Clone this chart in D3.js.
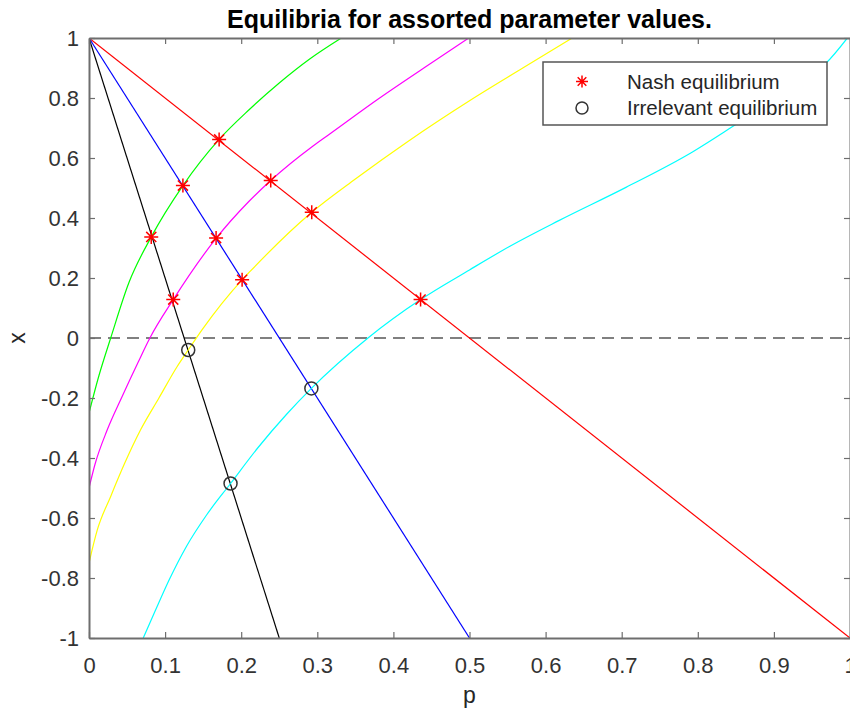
<!DOCTYPE html>
<html>
<head>
<meta charset="utf-8">
<script src="https://cdn.jsdelivr.net/npm/d3@7"></script>
<style>
  body { margin: 0; background: #fff; }
  text { font-family: "Liberation Sans", Arial, sans-serif; }
</style>
</head>
<body>
<script>
// straight best-response lines [p, x]
var redLine = [[0, 1], [1, -1]];
var blueLine = [[0, 1], [0.5, -1]];
var blackLine = [[0, 1], [0.25, -1]];

// curves [p, x]
var greenCurve = [[0, -0.25], [0.0131, -0.125], [0.0285, 0], [0.0525, 0.185], [0.0818, 0.337],
    [0.1234, 0.508], [0.171, 0.662], [0.21, 0.76], [0.25, 0.85], [0.29, 0.93], [0.3316, 1]];
var magentaCurve = [[0, -0.5], [0.008, -0.42], [0.024, -0.306], [0.0437, -0.194], [0.0647, -0.08],
    [0.08, 0], [0.1107, 0.128], [0.167, 0.332], [0.21, 0.455], [0.2388, 0.525], [0.2944, 0.64],
    [0.3163, 0.68], [0.3819, 0.8], [0.44, 0.9], [0.499, 1]];
var yellowCurve = [[0, -0.75], [0.011, -0.639], [0.0285, -0.528], [0.047, -0.417], [0.0678, -0.306],
    [0.0919, -0.2], [0.1159, -0.095], [0.1304, -0.04], [0.1487, 0.028], [0.2012, 0.194], [0.2113, 0.221],
    [0.2927, 0.419], [0.35, 0.53], [0.42, 0.657], [0.5, 0.791], [0.57, 0.9], [0.6347, 1]];
var cyanCurve = [[0.0713, -1], [0.0866, -0.912], [0.1054, -0.806], [0.1282, -0.694], [0.1545, -0.59],
    [0.186, -0.485], [0.2222, -0.365], [0.2594, -0.255], [0.2922, -0.168], [0.3666, 0], [0.4357, 0.128],
    [0.5, 0.227], [0.5525, 0.305], [0.618, 0.392], [0.7056, 0.502], [0.793, 0.62], [0.8447, 0.703],
    [0.9, 0.795], [0.94, 0.862], [0.968, 0.915], [0.9965, 1]];

// equilibria
var nashPoints = [[0.171, 0.662], [0.1234, 0.508], [0.0818, 0.337], [0.2388, 0.525], [0.167, 0.333],
    [0.1107, 0.128], [0.2927, 0.419], [0.2012, 0.194], [0.4357, 0.128]];
var irrelevantPoints = [[0.1304, -0.04], [0.186, -0.485], [0.2922, -0.168]];

var xTicks = [0, 0.1, 0.2, 0.3, 0.4, 0.5, 0.6, 0.7, 0.8, 0.9, 1];
var yTicks = [-1, -0.8, -0.6, -0.4, -0.2, 0, 0.2, 0.4, 0.6, 0.8, 1];
var legendLabels = ["Nash equilibrium", "Irrelevant equilibrium"];

var svgWidth = 850;
var svgHeight = 715;
var margin = { top: 38, right: 0, bottom: 77, left: 89 };
var width = svgWidth - margin.left - margin.right;
var height = svgHeight - margin.top - margin.bottom;

var svg = d3.select("body")
    .append("svg")
    .attr("width", svgWidth)
    .attr("height", svgHeight);

var chartGroup = svg.append("g")
    .attr("transform", `translate(${margin.left}, ${margin.top})`);

var xScale = d3.scaleLinear().domain([0, 1]).range([0, width]);
var yScale = d3.scaleLinear().domain([-1, 1]).range([height, 0]);

chartGroup.append("clipPath")
    .attr("id", "plotClip")
    .append("rect")
    .attr("width", width)
    .attr("height", height);

var plot = chartGroup.append("g").attr("clip-path", "url(#plotClip)");

// dashed zero line
plot.append("line")
    .attr("x1", xScale(0))
    .attr("x2", xScale(1))
    .attr("y1", yScale(0))
    .attr("y2", yScale(0))
    .attr("stroke", "#808080")
    .attr("stroke-width", 2)
    .attr("stroke-dasharray", "12,7");

var line = d3.line()
    .x(d => xScale(d[0]))
    .y(d => yScale(d[1]))
    .curve(d3.curveMonotoneX);

var series = [
    [redLine, "#ff0000"],
    [blueLine, "#0000ff"],
    [blackLine, "#000000"],
    [greenCurve, "#00ff00"],
    [magentaCurve, "#ff00ff"],
    [yellowCurve, "#ffff00"],
    [cyanCurve, "#00ffff"]
];

series.forEach(function (s) {
    plot.append("path")
        .datum(s[0])
        .attr("d", line)
        .attr("fill", "none")
        .attr("stroke", s[1])
        .attr("stroke-width", 1.2);
});

function starPath(r) {
    var q = r * 0.72;
    return `M${-r},0H${r}M0,${-r}V${r}M${-q},${-q}L${q},${q}M${-q},${q}L${q},${-q}`;
}

chartGroup.selectAll(".nash")
    .data(nashPoints)
    .enter()
    .append("path")
    .attr("class", "nash")
    .attr("transform", d => `translate(${xScale(d[0])}, ${yScale(d[1])})`)
    .attr("d", starPath(7))
    .attr("fill", "none")
    .attr("stroke", "#ff0000")
    .attr("stroke-width", 1.5);

chartGroup.selectAll(".irrelevant")
    .data(irrelevantPoints)
    .enter()
    .append("circle")
    .attr("class", "irrelevant")
    .attr("cx", d => xScale(d[0]))
    .attr("cy", d => yScale(d[1]))
    .attr("r", 6.5)
    .attr("fill", "none")
    .attr("stroke", "#333333")
    .attr("stroke-width", 1.5);

// axes, ticks inward on all four sides, plain hyphen for minus
var tickFmt = d => d3.format("~g")(d).replace("\u2212", "-");
var axisColor = "#6e6e6e";
var bottomAxis = d3.axisBottom(xScale).tickValues(xTicks).tickSizeInner(-6).tickSizeOuter(0)
    .tickPadding(19).tickFormat(tickFmt);
var leftAxis = d3.axisLeft(yScale).tickValues(yTicks).tickSizeInner(-6).tickSizeOuter(0)
    .tickPadding(10).tickFormat(tickFmt);
var topAxis = d3.axisTop(xScale).tickValues(xTicks).tickSizeInner(-6).tickSizeOuter(0).tickFormat("");
var rightAxis = d3.axisRight(yScale).tickValues(yTicks).tickSizeInner(-6).tickSizeOuter(0).tickFormat("");

var gBottom = chartGroup.append("g").attr("transform", `translate(0, ${height})`).call(bottomAxis);
var gLeft = chartGroup.append("g").call(leftAxis);
var gTop = chartGroup.append("g").call(topAxis);
var gRight = chartGroup.append("g").attr("transform", `translate(${width}, 0)`).call(rightAxis);

[gBottom, gLeft, gTop, gRight].forEach(function (g) {
    g.select(".domain").attr("stroke", axisColor).attr("stroke-width", 2);
    g.selectAll(".tick line").attr("stroke", axisColor).attr("stroke-width", 1.2);
    g.selectAll(".tick text")
        .attr("fill", "#333333")
        .style("font-size", "22px")
        .style("font-family", "'Liberation Sans', Arial, sans-serif");
});

// legend
var legend = svg.append("g").attr("transform", "translate(543, 62)");
legend.append("rect")
    .attr("width", 284)
    .attr("height", 63)
    .attr("fill", "#ffffff")
    .attr("stroke", "#555555")
    .attr("stroke-width", 1.5);

legend.append("path")
    .attr("transform", "translate(39, 19.5)")
    .attr("d", starPath(6))
    .attr("fill", "none")
    .attr("stroke", "#ff0000")
    .attr("stroke-width", 1.5);

legend.append("circle")
    .attr("cx", 39)
    .attr("cy", 46)
    .attr("r", 6)
    .attr("fill", "none")
    .attr("stroke", "#333333")
    .attr("stroke-width", 1.5);

legend.selectAll(".legendText")
    .data(legendLabels)
    .enter()
    .append("text")
    .attr("class", "legendText")
    .attr("x", 84)
    .attr("y", (d, i) => 26.5 + i * 26.5)
    .attr("fill", "#262626")
    .style("font-size", "20.5px")
    .text(d => d);

// title and axis labels
svg.append("text")
    .attr("x", margin.left + width / 2)
    .attr("y", 28)
    .attr("text-anchor", "middle")
    .attr("font-weight", "bold")
    .attr("fill", "#000000")
    .style("font-size", "25px")
    .text("Equilibria for assorted parameter values.");

svg.append("text")
    .attr("x", margin.left + width / 2)
    .attr("y", 703)
    .attr("text-anchor", "middle")
    .attr("fill", "#262626")
    .style("font-size", "23px")
    .text("p");

svg.append("text")
    .attr("transform", `translate(25, ${margin.top + height / 2}) rotate(-90)`)
    .attr("text-anchor", "middle")
    .attr("fill", "#262626")
    .style("font-size", "23px")
    .text("x");
</script>
</body>
</html>
